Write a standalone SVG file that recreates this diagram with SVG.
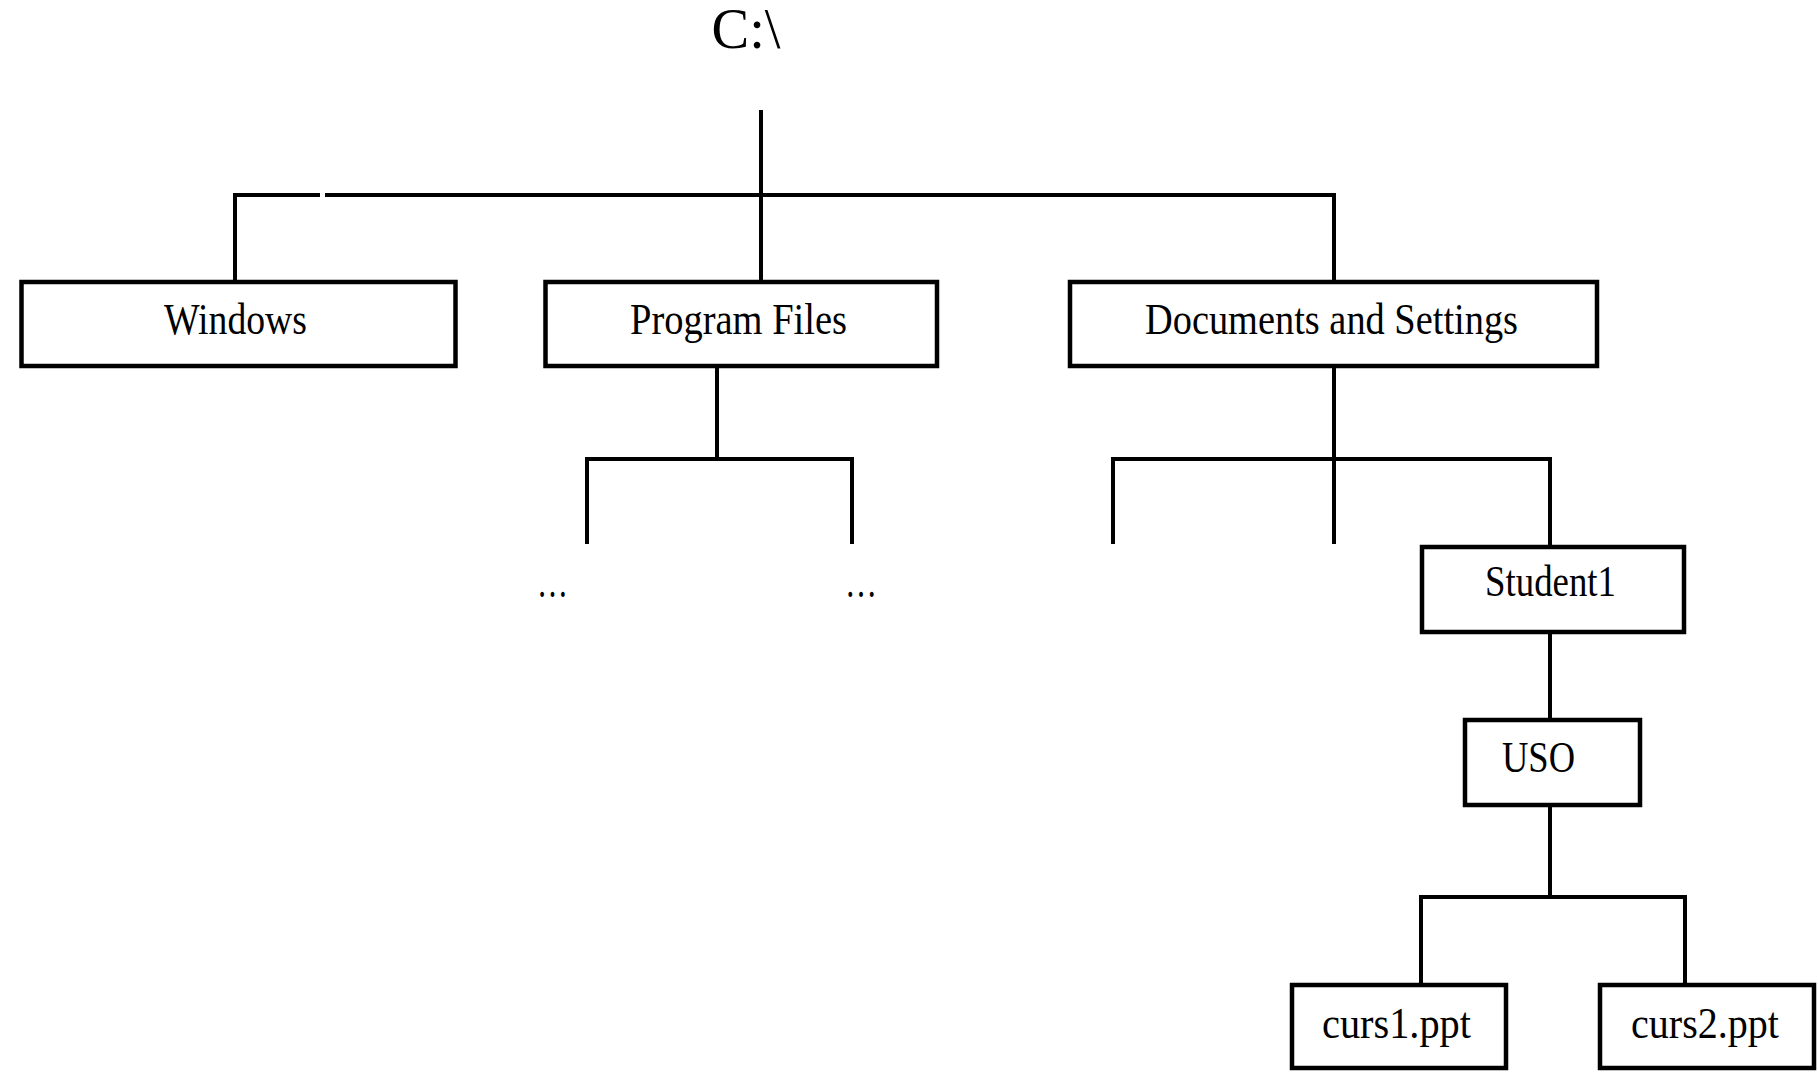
<svg xmlns="http://www.w3.org/2000/svg" width="1818" height="1078" viewBox="0 0 1818 1078">
  <style>
    .box { fill: #fff; stroke: #000; stroke-width: 4.5; }
    .lbl { font-family: "Liberation Serif", "Times New Roman", serif; font-size: 44px; fill: #000; text-anchor: middle; }
    .wire { fill: none; stroke: #000; stroke-width: 4; stroke-linecap: butt; stroke-linejoin: miter; }
  </style>
  <rect width="1818" height="1078" fill="#fff"/>

  <!-- connectors -->
  <g id="connectors" class="wire">
    <!-- root to first level -->
    <path d="M761,110 V282"/>
    <path d="M235,282 V195 H320"/>
    <path d="M325,195 H1334 V282"/>
    <!-- Program Files children -->
    <path d="M717,366 V459"/>
    <path d="M587,544 V459 H852 V544"/>
    <!-- Documents and Settings children -->
    <path d="M1334,366 V544"/>
    <path d="M1113,544 V459 H1550 V547"/>
    <!-- Student1 to USO -->
    <path d="M1550,632 V720"/>
    <!-- USO to files -->
    <path d="M1550,805 V897"/>
    <path d="M1421,985 V897 H1685 V985"/>
  </g>

  <!-- root -->
  <g id="node-root">
    <text x="746" y="48" class="lbl" style="font-size:56px" textLength="69" lengthAdjust="spacingAndGlyphs">C:\</text>
  </g>

  <g id="node-windows">
    <rect class="box" x="21.5" y="282" width="434" height="84"/>
    <text class="lbl" x="235.5" y="334" textLength="143" lengthAdjust="spacingAndGlyphs">Windows</text>
  </g>

  <g id="node-program-files">
    <rect class="box" x="545.5" y="282" width="391.5" height="84"/>
    <text class="lbl" x="738.5" y="334" textLength="217" lengthAdjust="spacingAndGlyphs">Program Files</text>
  </g>

  <g id="node-documents">
    <rect class="box" x="1070" y="282" width="527" height="84"/>
    <text class="lbl" x="1331.5" y="334" textLength="373" lengthAdjust="spacingAndGlyphs">Documents and Settings</text>
  </g>

  <g id="node-pf-more-1">
    <text class="lbl" x="552.5" y="597" textLength="31" lengthAdjust="spacingAndGlyphs">…</text>
  </g>
  <g id="node-pf-more-2">
    <text class="lbl" x="861" y="597" textLength="32" lengthAdjust="spacingAndGlyphs">…</text>
  </g>

  <g id="node-student1">
    <rect class="box" x="1422" y="547" width="262" height="85"/>
    <text class="lbl" x="1550.5" y="596" textLength="131" lengthAdjust="spacingAndGlyphs">Student1</text>
  </g>

  <g id="node-uso">
    <rect class="box" x="1465" y="720" width="175" height="85"/>
    <text class="lbl" x="1538.5" y="772" textLength="73" lengthAdjust="spacingAndGlyphs">USO</text>
  </g>

  <g id="node-curs1">
    <rect class="box" x="1292" y="985" width="214" height="83"/>
    <text class="lbl" x="1396.5" y="1038" textLength="149" lengthAdjust="spacingAndGlyphs">curs1.ppt</text>
  </g>

  <g id="node-curs2">
    <rect class="box" x="1600" y="985" width="214" height="83"/>
    <text class="lbl" x="1705" y="1038" textLength="148" lengthAdjust="spacingAndGlyphs">curs2.ppt</text>
  </g>
</svg>
